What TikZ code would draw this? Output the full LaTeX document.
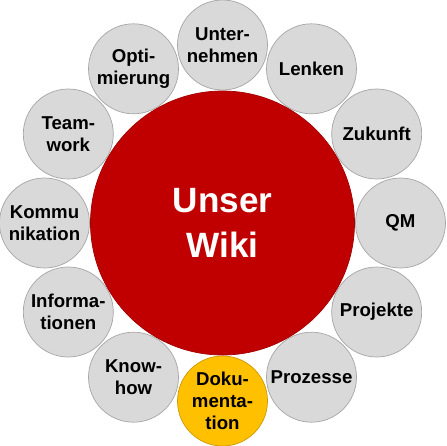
\documentclass[tikz,border=0pt]{standalone}
\usepackage{fontspec}
\setmainfont{Liberation Sans}
\usepackage{tikz}
\usepackage{xcolor}
\definecolor{wikired}{HTML}{C00000}
\definecolor{topicgrey}{HTML}{D9D9D9}
\definecolor{topicline}{HTML}{A6A6A6}
\definecolor{focusyellow}{HTML}{FFC000}

\begin{document}
\begin{tikzpicture}[scale=0.2,
  topic/.style={circle, fill=topicgrey, draw=topicline, line width=0.4pt,
    minimum size=1.8cm, inner sep=0pt, align=center,
    font=\fontsize{10.6}{12.6}\selectfont\bfseries},
  focus/.style={topic, fill=focusyellow, draw=focusyellow!80!black},
  wiki/.style={circle, fill=wikired, draw=wikired!85!black, line width=0.4pt,
    minimum size=5.28cm, inner sep=0pt, align=center, text=white,
    font=\fontsize{20}{25.5}\selectfont\bfseries}]
\useasboundingbox (0,0) rectangle (44.6,-44.6);
\node [topic] (unternehmen) at (22.25,-4.5) {Unter-\\nehmen};
\node [topic] (lenken) at (31.15,-6.88) {Lenken};
\node [topic] (zukunft) at (37.67,-13.4) {Zukunft};
\node [topic] (qm) at (40.05,-22.3) {QM};
\node [topic] (projekte) at (37.67,-31.2) {Projekte};
\node [topic] (prozesse) at (31.15,-37.72) {Prozesse};
\node [focus] (doku) at (22.25,-40.1) {Doku-\\menta-\\tion};
\node [topic] (knowhow) at (13.35,-37.72) {Know-\\how};
\node [topic] (info) at (6.83,-31.2) {Informa-\\tionen};
\node [topic] (kommu) at (4.45,-22.3) {Kommu\\nikation};
\node [topic] (team) at (6.83,-13.4) {Team-\\work};
\node [topic] (opti) at (13.35,-6.88) {Opti-\\mierung};
\node [wiki] (wiki) at (22.25,-22.3) {Unser\\Wiki};
\end{tikzpicture}
\end{document}
